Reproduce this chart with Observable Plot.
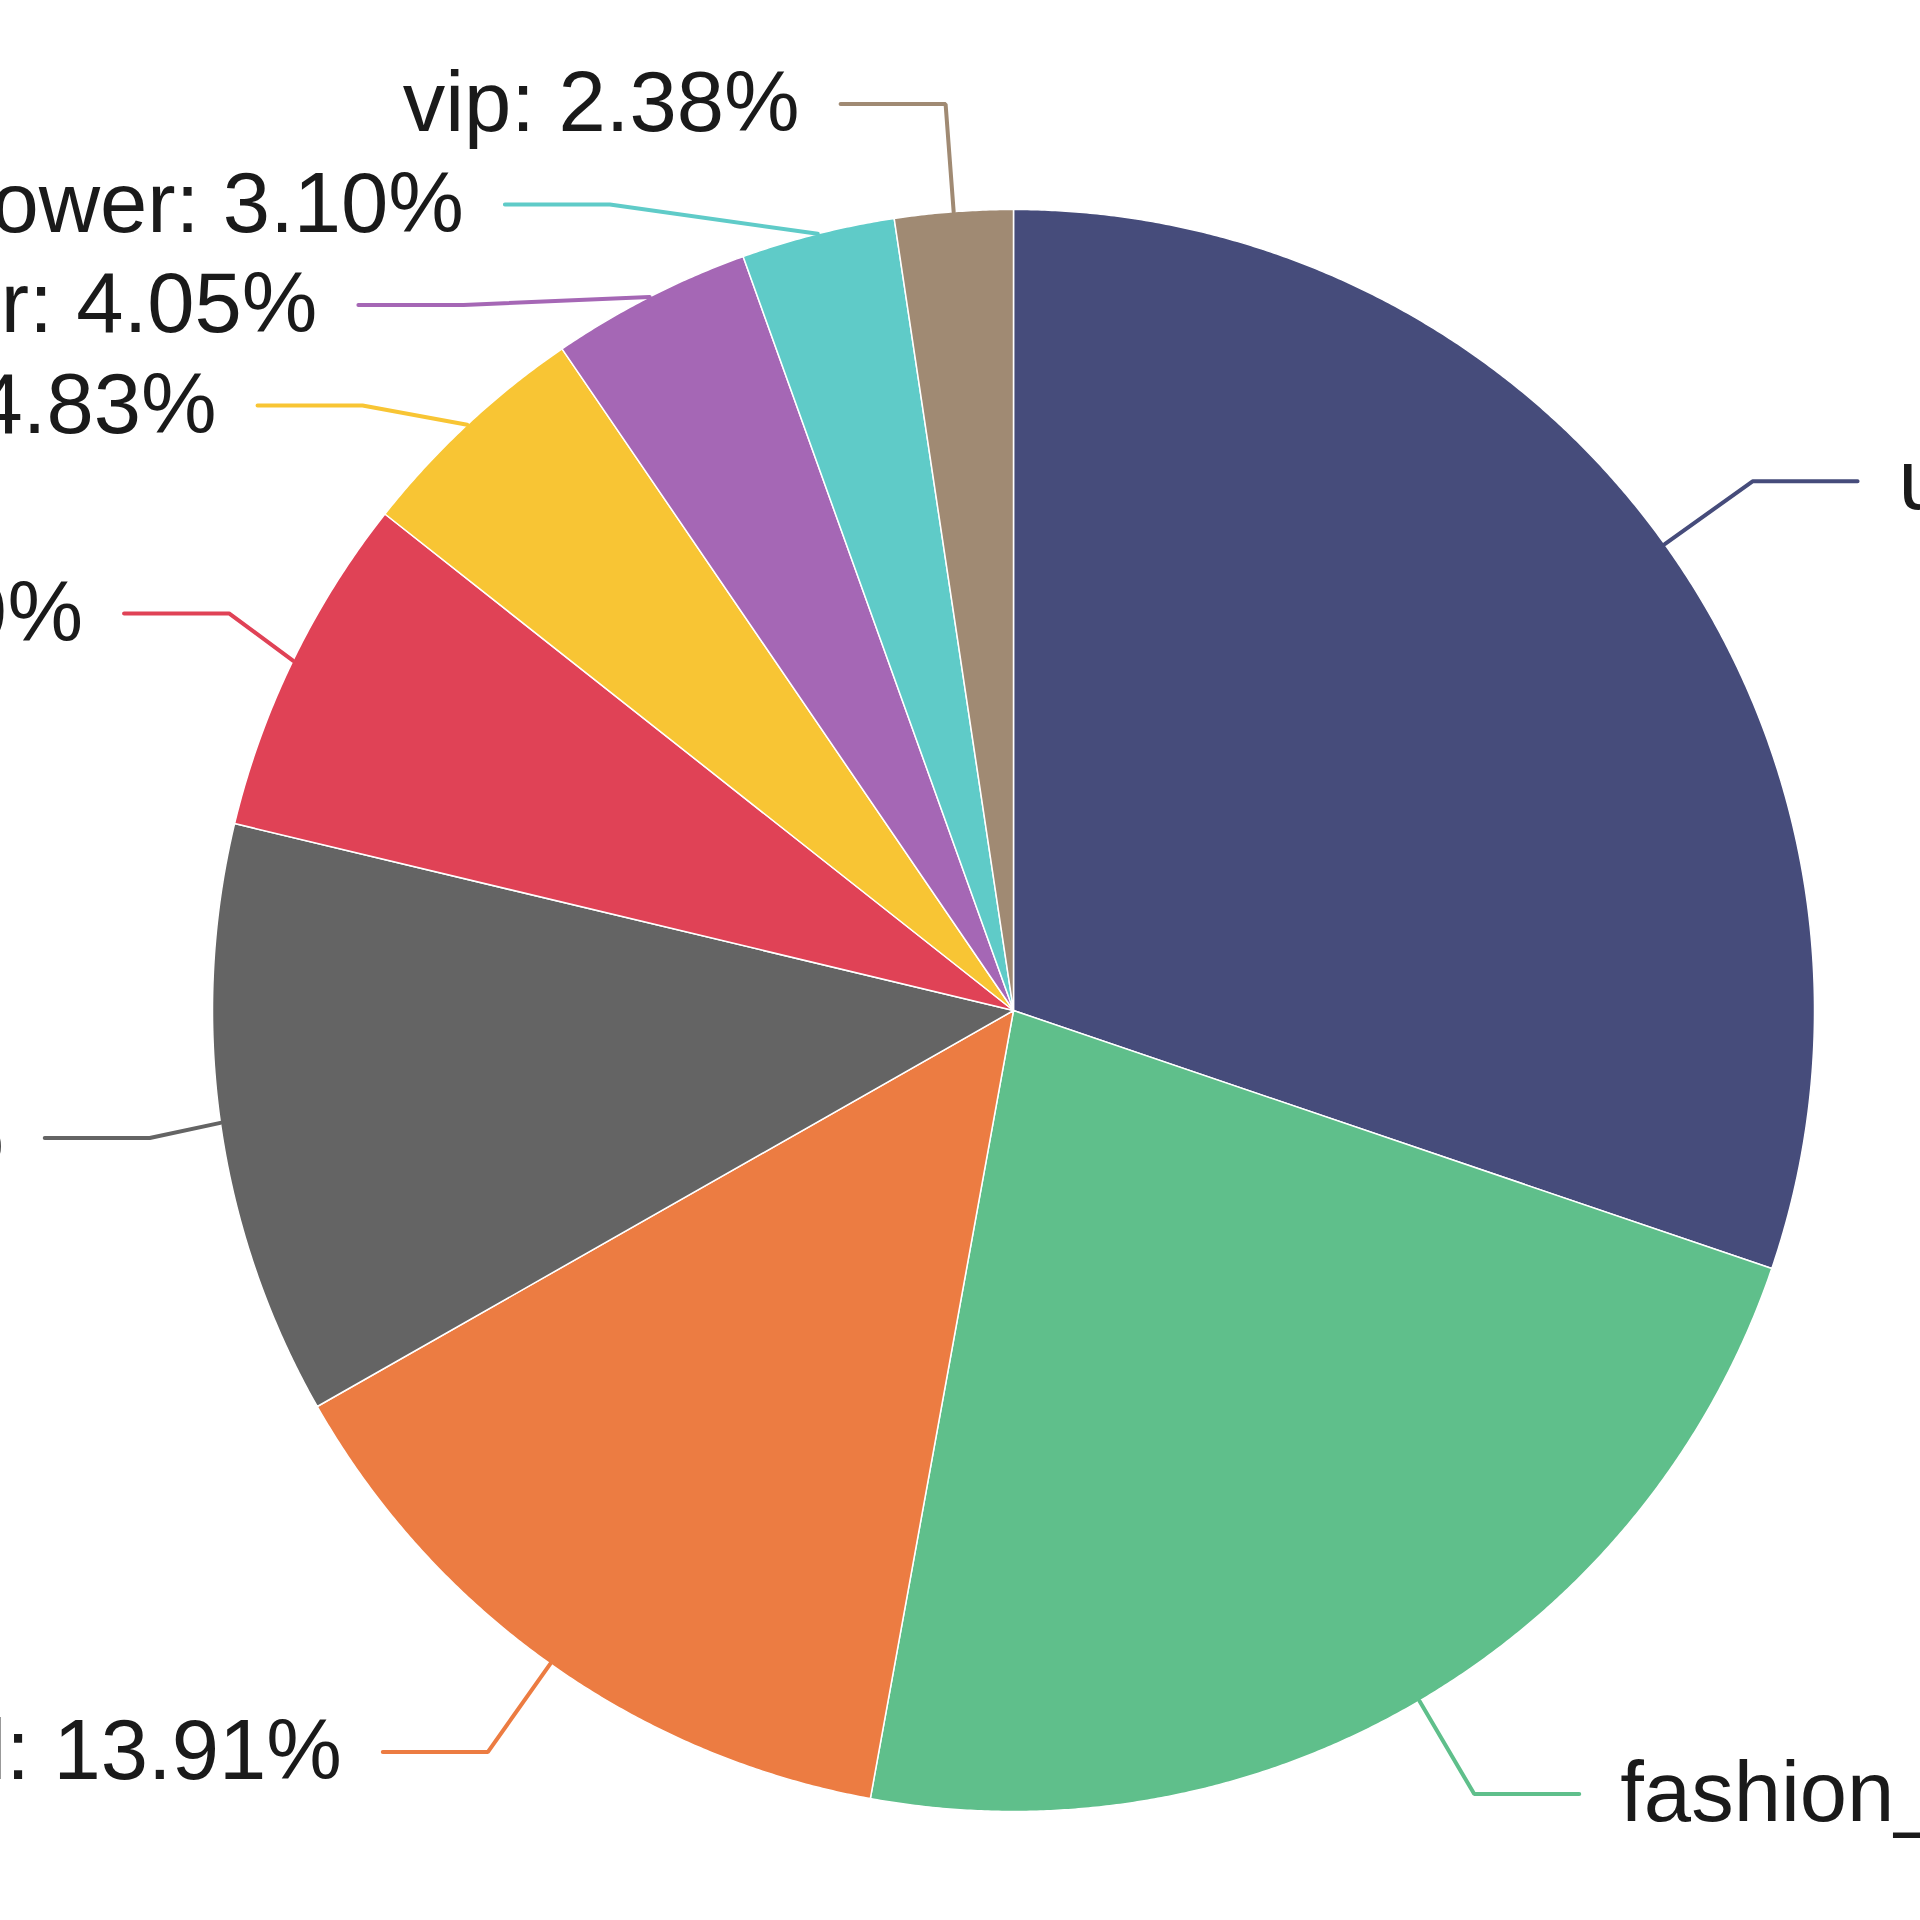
<!DOCTYPE html>
<html><head><meta charset="utf-8">
<script src="https://cdn.jsdelivr.net/npm/d3@7"></script>
<script src="https://cdn.jsdelivr.net/npm/@observablehq/plot@0.6"></script>
<style>
html,body{margin:0;padding:0;background:#fff;overflow:hidden;}
#chart svg{display:block;overflow:hidden;}
</style></head><body><div id="chart"></div>
<script>
// ---- data ----
const categories = ["unknown", "fashion_lover", "casual", "other", "student", "regular", "creator", "power", "vip"];
const shares = [30.22, 22.64, 13.91, 11.98, 6.89, 4.83, 4.05, 3.10, 2.38];
const colors = ["#464c7b", "#5fbf8b", "#ec7c42", "#646464", "#e04256", "#f8c534", "#a567b5", "#5fcbc8", "#a08a73"];

// ---- layout constants (pixels) ----
const W = 1920, H = 1920;
const CX = 1013, CY = 1010, R = 801;
const L1 = 108, L2 = 105, GAP = 41, SPACING = 100.5, RA = 872;
const FONT = 85;

const rows = categories.map((name, i) => ({name, share: shares[i]}));
const arcs = d3.pie().sort(null).value(d => d.share).startAngle(0).endAngle(2 * Math.PI)(rows);

// slice outlines in unit-circle coordinates (y up)
const slicePts = [];
for (const a of arcs) {
  const n = Math.max(2, Math.ceil((a.endAngle - a.startAngle) / (Math.PI / 720)));
  slicePts.push({name: a.data.name, x: 0, y: 0});
  for (let k = 0; k <= n; k++) {
    const t = a.startAngle + (a.endAngle - a.startAngle) * k / n;
    slicePts.push({name: a.data.name, x: Math.sin(t), y: Math.cos(t)});
  }
  slicePts.push({name: a.data.name, x: 0, y: 0});
}

// label layout (pie-style: radial first segment, shift to avoid overlap, realign on ellipse)
const r1 = 1 + L1 / R;
const rA = RA / R;
const labels = arcs.map(a => {
  const m = (a.startAngle + a.endAngle) / 2;
  const side = Math.sin(m) < 0 ? -1 : 1;
  return {name: a.data.name, share: a.data.share, side,
    ax: Math.sin(m), ay: Math.cos(m), ex: r1 * Math.sin(m), ey: r1 * Math.cos(m)};
});
for (const side of [-1, 1]) {
  const items = labels.filter(d => d.side === side).sort((p, q) => q.ey - p.ey);
  let shifted = false;
  for (let i = 1; i < items.length; i++) {
    const lim = items[i - 1].ey - SPACING / R;
    if (items[i].ey > lim) { items[i].ey = lim; shifted = true; }
  }
  if (!shifted) continue;
  for (const semi of [items.filter(d => d.ey >= 0), items.filter(d => d.ey < 0)]) {
    if (!semi.length) continue;
    const far = semi.reduce((p, q) => Math.abs(q.ey) > Math.abs(p.ey) ? q : p);
    const fdx = Math.abs(far.ex), fdy = Math.abs(far.ey);
    const rB = fdx < rA ? fdy / Math.sqrt(1 - (fdx * fdx) / (rA * rA)) : rA;
    for (const d of semi) {
      d.ex = side * rA * Math.sqrt(Math.max(0, 1 - (d.ey * d.ey) / (rB * rB)));
    }
  }
}
const linePts = [];
for (const d of labels) {
  d.tx = d.ex + d.side * L2 / R;
  d.ty = d.ey;
  linePts.push({name: d.name, x: d.ax, y: d.ay}, {name: d.name, x: d.ex, y: d.ey}, {name: d.name, x: d.tx, y: d.ty});
}
const fmt = d => `${d.name}: ${d.share.toFixed(2)}%`;

const chart = Plot.plot({
  width: W, height: H,
  marginTop: 0, marginRight: 0, marginBottom: 0, marginLeft: 0,
  style: {background: "white", overflow: "hidden", fontFamily: "'Liberation Sans', Arial, sans-serif"},
  x: {domain: [-CX / R, (W - CX) / R], axis: null},
  y: {domain: [-(H - CY) / R, CY / R], axis: null},
  color: {domain: categories, range: colors},
  marks: [
    Plot.line(slicePts, {x: "x", y: "y", z: "name", fill: "name", stroke: "white", strokeWidth: 1.5, curve: "linear"}),
    Plot.line(linePts, {x: "x", y: "y", z: "name", stroke: "name", strokeWidth: 4, curve: "linear", strokeLinejoin: "miter"}),
    Plot.text(labels.filter(d => d.side < 0), {x: "tx", y: "ty", text: fmt, textAnchor: "end", dx: -GAP, fontSize: FONT, fill: "#1a1a1a", fontFamily: "'Liberation Sans', Arial, sans-serif"}),
    Plot.text(labels.filter(d => d.side > 0), {x: "tx", y: "ty", text: fmt, textAnchor: "start", dx: GAP, fontSize: FONT, fill: "#1a1a1a", fontFamily: "'Liberation Sans', Arial, sans-serif"})
  ]
});
document.getElementById("chart").appendChild(chart);
</script>
</body></html>
